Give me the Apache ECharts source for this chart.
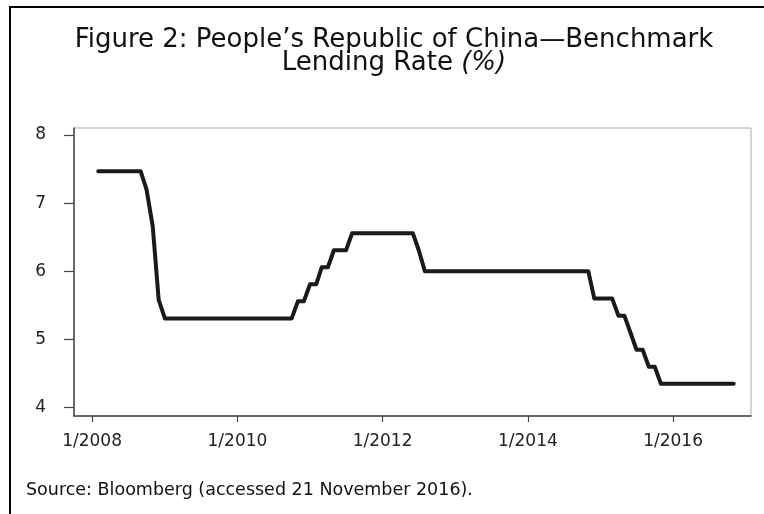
<!DOCTYPE html>
<html>
<head>
<meta charset="utf-8">
<title>PRC Benchmark Lending Rate</title>
<script src="https://cdn.jsdelivr.net/npm/echarts@6/dist/echarts.min.js"></script>
<style>
  html, body { margin: 0; padding: 0; background: #fff; }
  #main { width: 764px; height: 514px; }
</style>
</head>
<body>
<div id="main"></div>
<script>
// month-end rate (plotted at start of following month), turning points only
var months = ['2008-02', '2008-09', '2008-10', '2008-11', '2008-12', '2009-01',
    '2010-10', '2010-11', '2010-12', '2011-01', '2011-02', '2011-03', '2011-04',
    '2011-05', '2011-07', '2011-08', '2012-06', '2012-07', '2012-08',
    '2014-11', '2014-12', '2015-03', '2015-04', '2015-05', '2015-06',
    '2015-07', '2015-08', '2015-09', '2015-10', '2015-11', '2016-11'];
var rates = [7.47, 7.47, 7.20, 6.66, 5.58, 5.31,
    5.31, 5.56, 5.56, 5.81, 5.81, 6.06, 6.06,
    6.31, 6.31, 6.56, 6.56, 6.31, 6.00,
    6.00, 5.60, 5.60, 5.35, 5.35, 5.10,
    4.85, 4.85, 4.60, 4.60, 4.35, 4.35];
var yTicks = [4, 5, 6, 7, 8];
var xTicks = ['2008-01-01', '2010-01-01', '2012-01-01', '2014-01-01', '2016-01-01'];

var FONT = '"DejaVu Sans"';

function toTime(s) {
    var p = s.split('-');
    return Date.UTC(+p[0], +p[1] - 1, p[2] ? +p[2] : 1);
}

/**
 * 基准贷款利率图表
 */
function lendingRateChart() {
    var myChart = echarts.init(document.getElementById('main'), null, {renderer: 'canvas'});
    var seriesData = months.map(function (m, i) {
        return [toTime(m), rates[i]];
    });
    var xTickValues = xTicks.map(toTime);
    var option = {
        backgroundColor: '#fff',
        animation: false,
        title: [
            {
                text: 'Figure 2: People\u2019s Republic of China\u2014Benchmark\nLending Rate {i|(%)}',
                left: 394,
                top: 29,
                padding: 0,
                textAlign: 'center',
                textStyle: {
                    fontFamily: FONT,
                    fontSize: 26,
                    fontWeight: 'normal',
                    color: '#111',
                    lineHeight: 23,
                    rich: {
                        i: {
                            fontFamily: FONT,
                            fontSize: 26,
                            fontStyle: 'italic',
                            color: '#111',
                            lineHeight: 23
                        }
                    }
                }
            },
            {
                text: 'Source: Bloomberg (accessed 21 November 2016).',
                left: 26,
                top: 481,
                padding: 0,
                textStyle: {
                    fontFamily: FONT,
                    fontSize: 17.5,
                    fontWeight: 'normal',
                    color: '#111'
                }
            }
        ],
        graphic: [
            {
                type: 'line',
                shape: {x1: 9, y1: 7, x2: 764, y2: 7},
                style: {stroke: '#000', lineWidth: 2}
            },
            {
                type: 'line',
                shape: {x1: 10, y1: 7, x2: 10, y2: 514},
                style: {stroke: '#000', lineWidth: 2}
            }
        ],
        grid: {
            left: 74,
            right: 13,
            top: 128,
            bottom: 98,
            show: true,
            borderColor: '#aaa',
            borderWidth: 1
        },
        xAxis: {
            type: 'value',
            min: toTime('2007-10-02'),
            max: toTime('2017-01-27'),
            splitLine: {show: false},
            axisLine: {lineStyle: {color: '#444', width: 1.5}},
            axisTick: {
                show: true,
                length: 6,
                lineStyle: {color: '#444', width: 1.2},
                customValues: xTickValues
            },
            axisLabel: {
                customValues: xTickValues,
                margin: 17,
                fontFamily: FONT,
                fontSize: 17,
                color: '#222',
                formatter: function (v) {
                    var d = new Date(v);
                    return (d.getUTCMonth() + 1) + '/' + d.getUTCFullYear();
                }
            }
        },
        yAxis: {
            type: 'value',
            min: 3.878,
            max: 8.103,
            splitLine: {show: false},
            axisLine: {show: true, lineStyle: {color: '#444', width: 1.5}},
            axisTick: {
                show: true,
                length: 10,
                lineStyle: {color: '#444', width: 1.2},
                customValues: yTicks
            },
            axisLabel: {
                customValues: yTicks,
                margin: 28,
                fontFamily: FONT,
                fontSize: 17,
                color: '#222'
            }
        },
        series: [
            {
                type: 'line',
                data: seriesData,
                showSymbol: false,
                lineStyle: {color: '#1a1a1a', width: 4, cap: 'round', join: 'round'}
            }
        ]
    };
    if (option && typeof option === "object") {
        myChart.setOption(option, true);
    }
}

lendingRateChart();
</script>
</body>
</html>
